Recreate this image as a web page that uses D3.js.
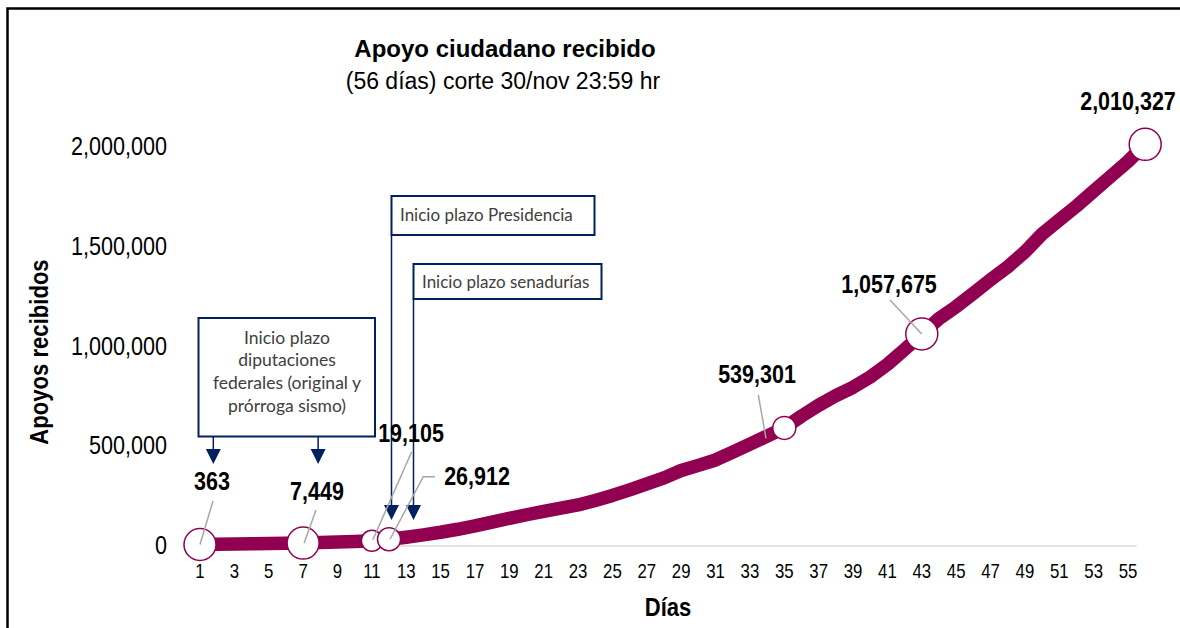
<!DOCTYPE html>
<html><head><meta charset="utf-8">
<script src="https://cdn.jsdelivr.net/npm/d3@7"></script>
<style>
body{margin:0;background:#fff;}
svg{display:block;}
text{font-family:"Liberation Sans",Arial,sans-serif;}
text.box{font-family:Lato,"Open Sans",sans-serif;}
</style></head>
<body><svg id="c" width="1180" height="628"></svg>
<script>
const days = d3.range(1, 57);
const apoyos = [363,1500,2700,3800,5000,6200,7449,10000,13000,16000,19105,26912,
  37000,49000,62000,77000,94000,113000,132000,150000,167000,183000,199000,222000,
  247000,275000,305000,335000,372000,398000,425000,465000,505000,545000,586000,
  645000,700000,748000,790000,842000,905000,980000,1057675,1135000,1195000,1262000,
  1330000,1395000,1470000,1560000,1630000,1700000,1775000,1850000,1925000,2010327];
const xTicks = d3.range(1, 56, 2);
const yTicks = [0, 500000, 1000000, 1500000, 2000000];
const markerDays = [1, 7, 11, 12, 35, 43, 56];
const markerSize = [16, 16, 10.5, 11.5, 11.5, 16, 16];
const labelTexts = ["363", "7,449", "19,105", "26,912", "539,301", "1,057,675", "2,010,327"];
const titleText = "Apoyo ciudadano recibido";
const subtitleText = "(56 días) corte 30/nov 23:59 hr";
const yTitle = "Apoyos recibidos";
const xTitle = "Días";
const boxDip = ["Inicio plazo", "diputaciones", "federales (original y", "prórroga sismo)"];
const boxPres = "Inicio plazo Presidencia";
const boxSen = "Inicio plazo senadurías";

const svg = d3.select("#c");
const x = d3.scaleLinear().domain([1, 56]).range([200, 1145.2]);
const y = d3.scaleLinear().domain([0, 2000000]).range([544.6, 146.4]);
const lineCol = "#920052", navy = "#002060";
const fmt = d3.format(",");

// text helper with horizontal condensing (narrow look)
function ntext(g, px, py, str, size, sx, anchor, bold, rot) {
  return g.append("text")
    .attr("transform", `translate(${px},${py})` + (rot ? ` rotate(${rot})` : "") + ` scale(${sx},1)`)
    .attr("text-anchor", anchor || "middle").attr("font-size", size)
    .attr("font-weight", bold ? "bold" : "normal").attr("fill", "#000").text(str);
}

// frame
svg.append("rect").attr("x", 7.5).attr("y", 8.5).attr("width", 1200).attr("height", 650)
  .attr("fill", "none").attr("stroke", "#000").attr("stroke-width", 2.5);

// titles
ntext(svg, 505, 57, titleText, 24, 1, "middle", true);
ntext(svg, 503, 89, subtitleText, 23, 1, "middle", false);

// y tick labels
const yg = svg.append("g");
yTicks.forEach(t => ntext(yg, 167, y(t) + 9, fmt(t), 26, 0.83, "end", false));

// x axis
svg.append("line").attr("x1", x(0.5)).attr("x2", x(55.5)).attr("y1", 546).attr("y2", 546)
  .attr("stroke", "#d9d9d9").attr("stroke-width", 1.5);
const xg = svg.append("g");
xTicks.forEach(t => ntext(xg, x(t), 578, String(t), 20, 0.84, "middle", false));

ntext(svg, 48, 352, yTitle, 26, 0.85, "middle", true, -90);
ntext(svg, 668, 616, xTitle, 25, 0.88, "middle", true);

// annotation boxes
function arrow(g, ax, y1, tip) {
  g.append("line").attr("x1", ax).attr("x2", ax).attr("y1", y1).attr("y2", tip - 12)
    .attr("stroke", navy).attr("stroke-width", 1.5);
  g.append("path").attr("d", `M${ax - 7.5},${tip - 15}L${ax + 7.5},${tip - 15}L${ax},${tip}Z`).attr("fill", navy);
}
const ann = svg.append("g");
ann.append("rect").attr("x", 198.5).attr("y", 318).attr("width", 176.5).attr("height", 118.5)
  .attr("fill", "#fff").attr("stroke", navy).attr("stroke-width", 2);
boxDip.forEach((t, i) => ann.append("text").attr("class", "box").attr("x", 287).attr("y", 343.5 + i * 22.8)
  .attr("text-anchor", "middle").attr("font-size", 17.5).attr("fill", "#404040").text(t));
arrow(ann, x(1) + 13.3, 437, 464);
arrow(ann, x(7) + 15, 437, 464);

ann.append("rect").attr("x", 391.5).attr("y", 196).attr("width", 203).attr("height", 39)
  .attr("fill", "#fff").attr("stroke", navy).attr("stroke-width", 2);
ann.append("text").attr("class", "box").attr("x", 400).attr("y", 221).attr("font-size", 17)
  .attr("fill", "#404040").text(boxPres);
arrow(ann, 391.5, 235, 520);
ann.append("rect").attr("x", 413.5).attr("y", 264).attr("width", 188).attr("height", 35)
  .attr("fill", "#fff").attr("stroke", navy).attr("stroke-width", 2);
ann.append("text").attr("class", "box").attr("x", 422).attr("y", 288).attr("font-size", 17)
  .attr("fill", "#404040").text(boxSen);
arrow(ann, 413.5, 299, 520);

// line
svg.append("path").datum(days.map((d, i) => [d, apoyos[i]]))
  .attr("d", d3.line().x(d => x(d[0])).y(d => y(d[1])))
  .attr("fill", "none").attr("stroke", lineCol).attr("stroke-width", 13.5).attr("stroke-linejoin", "round");

// markers
const val = d => apoyos[d - 1];
svg.selectAll("circle.m").data(markerDays).join("circle").attr("class", "m")
  .attr("cx", d => x(d)).attr("cy", d => y(val(d))).attr("r", (d, i) => markerSize[i])
  .attr("fill", "#fff").attr("stroke", lineCol).attr("stroke-width", 1.5);

// leader lines
const lead = [
  [[213, 501], [x(1), y(val(1))]],
  [[316, 510], [x(7) + 1, y(val(7))]],
  [[411.7, 451.7], [x(11) + 1, y(val(11)) - 1]],
  [[435, 476.7], [423.3, 476.7], [x(12) + 1, y(val(12))]],
  [[758.3, 395], [766, 438.3]],
  [[890, 300], [x(43), y(val(43))]]
];
lead.forEach(p => svg.append("path").attr("d", d3.line()(p)).attr("fill", "none")
  .attr("stroke", "#a6a6a6").attr("stroke-width", 1.5));

// data labels
const labPos = [[212, 490], [317, 500], [411, 442], [477, 485], [757, 383], [889, 293], [1128, 110]];
const lg = svg.append("g");
labelTexts.forEach((t, i) => ntext(lg, labPos[i][0], labPos[i][1], t, 25, 0.86, "middle", true));
</script></body></html>
